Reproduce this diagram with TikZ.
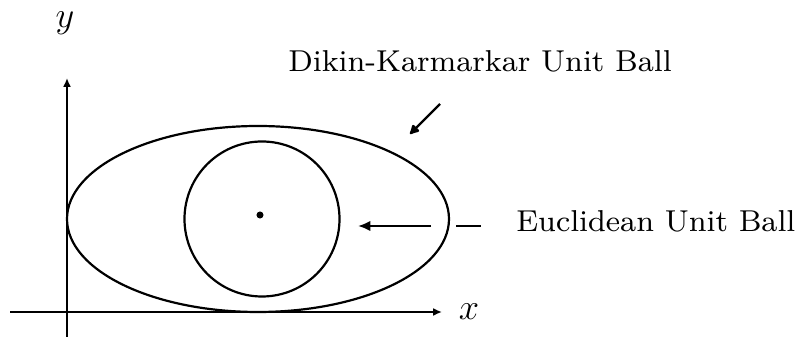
\documentclass[tikz,border=0pt]{standalone}
\usepackage{fontspec}
\usepackage{tikz}
\usetikzlibrary{arrows.meta,positioning}
\newfontfamily\labelfont{lmroman8-regular}[Extension=.otf]

\begin{document}
\begin{tikzpicture}[x=0.02cm,y=-0.02cm,>=Latex,
  curve/.style={line width=1.25pt},
  axis/.style={line width=1.1pt,-{Latex[length=5pt,width=4.5pt]}},
  lbl/.style={font=\labelfont\fontsize{17.2}{21}\selectfont,inner sep=0pt}]
  \useasboundingbox (0,0) rectangle (799,337);
  % axes
  \coordinate (xstart) at (10,312);
  \coordinate (xtip) at (442,312);
  \coordinate (ystart) at (67,337);
  \coordinate (ytip) at (67,78);
  \draw[axis] (xstart) -- (xtip);
  \draw[axis] (ystart) -- (ytip);
  \node[lbl,anchor=base,font=\fontsize{20}{24}\selectfont] (xlab) at (469,320) {$x$};
  \node[lbl,anchor=base,font=\fontsize{20}{24}\selectfont] (ylab) at (65,28) {$y$};
  % the two balls
  \draw[curve] (258,219) ellipse [x radius=191,y radius=93];
  \draw[curve] (262,219) circle [radius=77.5];
  \node[circle,fill,inner sep=0pt,minimum size=4pt] (ctr) at (260,215) {};
  % labels and pointers
  \node[lbl,anchor=base west] (dikin) at (288,72) {Dikin-Karmarkar Unit Ball};
  \node[lbl,anchor=base west] (eucl) at (516,232) {Euclidean Unit Ball};
  \coordinate (dtail) at (440,104);
  \coordinate (dtip) at (410,134);
  \draw[curve,-{Latex[length=6.5pt,width=6.5pt,round]}] (dtail) -- (dtip);
  \coordinate (etail) at (431,226);
  \coordinate (etip) at (358,226);
  \draw[curve,-{Latex[length=7pt,width=6pt]}] (etail) -- (etip);
  \coordinate (dashl) at (456,226);
  \coordinate (dashr) at (481,226);
  \draw[curve] (dashl) -- (dashr);
\end{tikzpicture}
\end{document}
